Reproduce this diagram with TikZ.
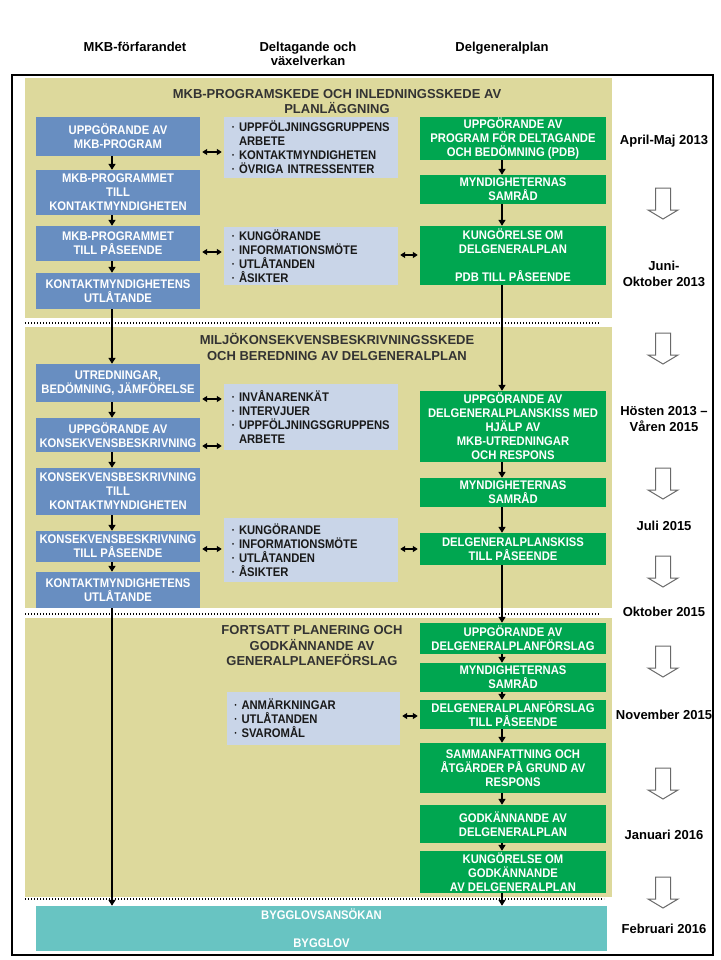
\documentclass[tikz,border=0pt]{standalone}
\usepackage{fontspec}
\setmainfont{Liberation Sans}
\newfontfamily\nar[FakeStretch=0.9]{Liberation Sans}
\usetikzlibrary{arrows.meta}
\definecolor{khaki}{RGB}{221,217,156}
\definecolor{mblue}{RGB}{104,142,193}
\definecolor{lblue}{RGB}{201,213,232}
\definecolor{mgreen}{RGB}{0,166,80}
\definecolor{tealbox}{RGB}{104,196,194}
\definecolor{harrowc}{RGB}{105,105,105}
\newcommand\lbul{\makebox[7pt][l]{\raisebox{2.2pt}{\fontsize{6.5}{6.5}\selectfont\textbullet}}}
\newcommand\lcont{\hspace*{7pt}}
\newcommand\harr[1]{\draw[hollowarr] (655.5,#1) -- ++(15,0) -- ++(0,22) -- ++(7.5,0) -- ++(-15,9) -- ++(-15,-9) -- ++(7.5,0) -- cycle;}
\tikzset{
  boxtext/.style={font=\nar\bfseries\fontsize{12.5}{14}\selectfont, text=white, align=center, inner sep=0pt},
  bbox/.style={boxtext, fill=mblue, minimum width=164pt},
  gbox/.style={boxtext, fill=mgreen, minimum width=186pt},
  tbox/.style={boxtext, fill=tealbox, minimum width=571pt},
  lbox/.style={font=\nar\bfseries\fontsize{12.5}{14}\selectfont, text=black!90, fill=lblue, align=left, text width=158pt, minimum width=174pt, inner sep=0pt},
  sec/.style={font=\bfseries\fontsize{13}{15.5}\selectfont, text=black!80, align=center, inner sep=0pt},
  hdr/.style={font=\bfseries\fontsize{13}{14}\selectfont, align=center, inner sep=0pt},
  datelbl/.style={font=\bfseries\fontsize{13}{15.5}\selectfont, align=center, inner sep=0pt},
  conn/.style={line width=1.8pt, -{Triangle[length=6pt,width=7pt]}},
  dbl/.style={line width=1.5pt, {Triangle[length=5pt,width=6pt]}-{Triangle[length=5pt,width=6pt]}, shorten <=2pt, shorten >=2pt},
  dotline/.style={line width=1.8pt, dash pattern=on 1.4pt off 1.6pt},
  hollowarr/.style={draw=harrowc, line width=1pt, fill=white}
}
\begin{document}
\begin{tikzpicture}[x=1pt,y=-1pt]
\useasboundingbox (0,0) rectangle (720,960);
\fill[white] (0,0) rectangle (720,960);

% section backgrounds
\fill[khaki] (25,78) rectangle (612,318);
\fill[khaki] (25,327) rectangle (612,608);
\fill[khaki] (25,618) rectangle (612,897);
\draw[dotline] (25,323) -- (600,323);
\draw[dotline] (25,614) -- (600,614);
\draw[dotline] (25,899) -- (604,899);

% outer frame
\draw[line width=2pt] (12,75) rectangle (713,955);

% column headers
\node[hdr, anchor=base] (c1) at (135,52) {MKB-förfarandet};
\node[hdr] (c2) at (308,54.2) {Deltagande och\\växelverkan};
\node[hdr, anchor=base] (c3) at (502,52) {Delgeneralplan};

% section headers
\node[sec] (H1) at (337,101.6) {MKB-PROGRAMSKEDE OCH INLEDNINGSSKEDE AV\\PLANLÄGGNING};
\node[sec] (H2) at (337,347) {MILJÖKONSEKVENSBESKRIVNINGSSKEDE\\OCH BEREDNING AV DELGENERALPLAN};
\node[sec] (H3) at (312,646) {FORTSATT PLANERING OCH\\GODKÄNNANDE AV\\GENERALPLANEFÖRSLAG};

% blue column
\node[bbox, minimum height=39pt] (B1) at (118,136.5) {UPPGÖRANDE AV\\MKB-PROGRAM};
\node[bbox, minimum height=45pt] (B2) at (118,192.5) {MKB-PROGRAMMET\\TILL\\KONTAKTMYNDIGHETEN};
\node[bbox, minimum height=35pt] (B3) at (118,243.5) {MKB-PROGRAMMET\\TILL PÅSEENDE};
\node[bbox, minimum height=36pt] (B4) at (118,291) {KONTAKTMYNDIGHETENS\\UTLÅTANDE};
\node[bbox, minimum height=38pt] (B5) at (118,383) {UTREDNINGAR,\\BEDÖMNING, JÄMFÖRELSE};
\node[bbox, minimum height=34pt] (B6) at (118,435) {UPPGÖRANDE AV\\KONSEKVENSBESKRIVNING};
\node[bbox, minimum height=47pt] (B7) at (118,491.5) {KONSEKVENSBESKRIVNING\\TILL\\KONTAKTMYNDIGHETEN};
\node[bbox, minimum height=31pt] (B8) at (118,546.5) {KONSEKVENSBESKRIVNING\\TILL PÅSEENDE};
\node[bbox, minimum height=36pt] (B9) at (118,590) {KONTAKTMYNDIGHETENS\\UTLÅTANDE};

% light blue lists
\node[lbox, minimum height=61pt] (L1) at (311,147.5) {\lbul UPPFÖLJNINGSGRUPPENS\\\lcont ARBETE\\\lbul KONTAKTMYNDIGHETEN\\\lbul ÖVRIGA INTRESSENTER};
\node[lbox, minimum height=58pt] (L2) at (311,256) {\lbul KUNGÖRANDE\\\lbul INFORMATIONSMÖTE\\\lbul UTLÅTANDEN\\\lbul ÅSIKTER};
\node[lbox, minimum height=66pt] (L3) at (311,417) {\lbul INVÅNARENKÄT\\\lbul INTERVJUER\\\lbul UPPFÖLJNINGSGRUPPENS\\\lcont ARBETE};
\node[lbox, minimum height=64pt] (L4) at (311,550) {\lbul KUNGÖRANDE\\\lbul INFORMATIONSMÖTE\\\lbul UTLÅTANDEN\\\lbul ÅSIKTER};
\node[lbox, minimum width=173pt, minimum height=53pt] (L5) at (313.5,718.5) {\lbul ANMÄRKNINGAR\\\lbul UTLÅTANDEN\\\lbul SVAROMÅL};

% green column
\node[gbox, minimum height=43pt] (G1) at (513,138.5) {UPPGÖRANDE AV\\PROGRAM FÖR DELTAGANDE\\OCH BEDÖMNING (PDB)};
\node[gbox, minimum height=29pt] (G2) at (513,189.5) {MYNDIGHETERNAS\\SAMRÅD};
\node[gbox, minimum height=59pt] (G3) at (513,255.5) {KUNGÖRELSE OM\\DELGENERALPLAN\\[14pt]PDB TILL PÅSEENDE};
\node[gbox, minimum height=71pt] (G4) at (513,426.5) {UPPGÖRANDE AV\\DELGENERALPLANSKISS MED\\HJÄLP AV\\MKB-UTREDNINGAR\\OCH RESPONS};
\node[gbox, minimum height=29pt] (G5) at (513,492.5) {MYNDIGHETERNAS\\SAMRÅD};
\node[gbox, minimum height=32pt] (G6) at (513,549) {DELGENERALPLANSKISS\\TILL PÅSEENDE};
\node[gbox, minimum height=31pt] (G7) at (513,638.5) {UPPGÖRANDE AV\\DELGENERALPLANFÖRSLAG};
\node[gbox, minimum height=29pt] (G8) at (513,677.5) {MYNDIGHETERNAS\\SAMRÅD};
\node[gbox, minimum height=29pt] (G9) at (513,714.5) {DELGENERALPLANFÖRSLAG\\TILL PÅSEENDE};
\node[gbox, minimum height=50pt] (G10) at (513,768) {SAMMANFATTNING OCH\\ÅTGÄRDER PÅ GRUND AV\\RESPONS};
\node[gbox, minimum height=38pt] (G11) at (513,824) {GODKÄNNANDE AV\\DELGENERALPLAN};
\node[gbox, minimum height=42pt] (G12) at (513,872) {KUNGÖRELSE OM\\GODKÄNNANDE\\AV DELGENERALPLAN};

% bottom box
\node[tbox, minimum height=45pt] (T) at (321.5,928.5) {BYGGLOVSANSÖKAN\\[14pt]BYGGLOV};

% connector helper coordinates
\coordinate (lx) at (112,0);
\coordinate (gx) at (502,0);
\coordinate (y1) at (0,152);
\coordinate (y2) at (0,252);
\coordinate (y3) at (0,255);
\coordinate (y4) at (0,399);
\coordinate (y5) at (0,446);
\coordinate (y6) at (0,549);
\coordinate (y7) at (0,716);

% left chain
\draw[conn] (B1.south -| lx) -- (B2.north -| lx);
\draw[conn] (B2.south -| lx) -- (B3.north -| lx);
\draw[conn] (B3.south -| lx) -- (B4.north -| lx);
\draw[conn] (B4.south -| lx) -- (B5.north -| lx);
\draw[conn] (B5.south -| lx) -- (B6.north -| lx);
\draw[conn] (B6.south -| lx) -- (B7.north -| lx);
\draw[conn] (B7.south -| lx) -- (B8.north -| lx);
\draw[conn] (B8.south -| lx) -- (B9.north -| lx);
\draw[conn] (B9.south -| lx) -- (T.north -| lx);

% green chain
\draw[conn] (G1.south -| gx) -- (G2.north -| gx);
\draw[conn] (G2.south -| gx) -- (G3.north -| gx);
\draw[conn] (G3.south -| gx) -- (G4.north -| gx);
\draw[conn] (G4.south -| gx) -- (G5.north -| gx);
\draw[conn] (G5.south -| gx) -- (G6.north -| gx);
\draw[conn] (G6.south -| gx) -- (G7.north -| gx);
\draw[conn] (G7.south -| gx) -- (G8.north -| gx);
\draw[conn] (G8.south -| gx) -- (G9.north -| gx);
\draw[conn] (G9.south -| gx) -- (G10.north -| gx);
\draw[conn] (G10.south -| gx) -- (G11.north -| gx);
\draw[conn] (G11.south -| gx) -- (G12.north -| gx);
\draw[conn] (G12.south -| gx) -- (T.north -| gx);

% double arrows
\draw[dbl] (B1.east |- y1) -- (L1.west |- y1);
\draw[dbl] (B3.east |- y2) -- (L2.west |- y2);
\draw[dbl] (L2.east |- y3) -- (G3.west |- y3);
\draw[dbl] (B5.east |- y4) -- (L3.west |- y4);
\draw[dbl] (B6.east |- y5) -- (L3.west |- y5);
\draw[dbl] (B8.east |- y6) -- (L4.west |- y6);
\draw[dbl] (L4.east |- y6) -- (G6.west |- y6);
\draw[dbl] (L5.east |- y7) -- (G9.west |- y7);

% time labels
\node[datelbl, anchor=base] (d1) at (664,145) {April-Maj 2013};
\node[datelbl] (d2) at (664,274) {Juni-\\Oktober 2013};
\node[datelbl] (d3) at (664,419) {Hösten 2013 –\\Våren 2015};
\node[datelbl, anchor=base] (d4) at (664,530) {Juli 2015};
\node[datelbl, anchor=base] (d5) at (664,616) {Oktober 2015};
\node[datelbl, anchor=base] (d6) at (664,719) {November 2015};
\node[datelbl, anchor=base] (d7) at (664,839) {Januari 2016};
\node[datelbl, anchor=base] (d8) at (664,933) {Februari 2016};

% hollow time arrows
\harr{188}
\harr{333}
\harr{468}
\harr{556}
\harr{646}
\harr{768}
\harr{877}
\end{tikzpicture}
\end{document}
